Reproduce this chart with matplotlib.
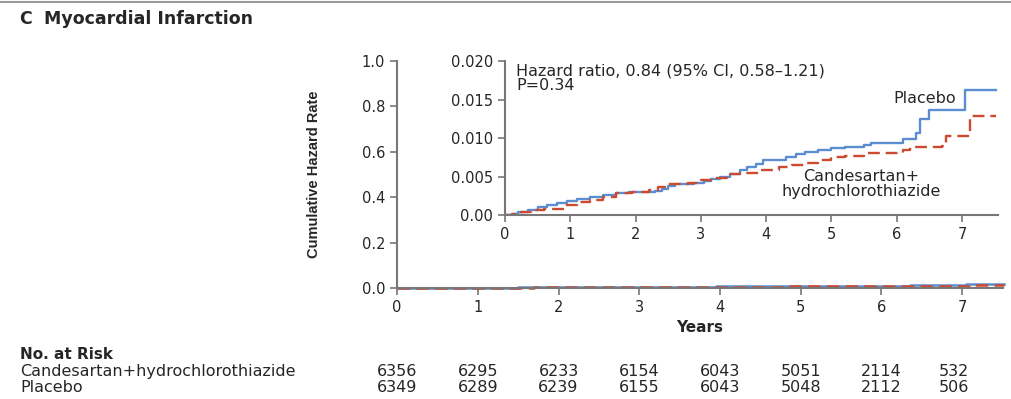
import matplotlib
matplotlib.use("Agg")
import matplotlib.pyplot as plt
import matplotlib.transforms as mtransforms

# cumulative hazard (years, rate)
placebo_t = [0, 0.1, 0.2, 0.35, 0.5, 0.65, 0.8, 0.95, 1.1, 1.3, 1.5, 1.7, 1.9, 2.3, 2.4,
             2.5, 2.6, 2.9, 3.05, 3.15, 3.3, 3.45, 3.6, 3.7, 3.85, 3.95, 4.3, 4.45, 4.6,
             4.8, 5.0, 5.2, 5.5, 5.6, 6.1, 6.3, 6.35, 6.5, 7.05, 7.52]
placebo_y = [0, 0.0002, 0.0004, 0.0007, 0.0010, 0.0013, 0.0016, 0.0018, 0.0021, 0.0024,
             0.0026, 0.0028, 0.0030, 0.0031, 0.0034, 0.0038, 0.0040, 0.0041, 0.0044,
             0.0047, 0.0050, 0.0053, 0.0058, 0.0062, 0.0066, 0.0072, 0.0075, 0.0079,
             0.0082, 0.0085, 0.0087, 0.0089, 0.0091, 0.0093, 0.0099, 0.0106, 0.0125,
             0.0137, 0.0162, 0.0162]
cand_t = [0, 0.1, 0.25, 0.4, 0.6, 0.9, 1.1, 1.3, 1.5, 1.7, 1.95, 2.2, 2.35, 2.5, 2.8, 3.0,
          3.2, 3.4, 3.6, 3.9, 4.2, 4.4, 4.6, 4.8, 5.0, 5.2, 5.5, 6.1, 6.2, 6.7, 6.75, 7.1,
          7.12, 7.52]
cand_y = [0, 0.0002, 0.0004, 0.0006, 0.0008, 0.0013, 0.0017, 0.0020, 0.0024, 0.0028,
          0.0030, 0.0033, 0.0036, 0.0040, 0.0042, 0.0045, 0.0048, 0.0053, 0.0055,
          0.0059, 0.0062, 0.0065, 0.0068, 0.0071, 0.0075, 0.0077, 0.0081, 0.0084,
          0.0088, 0.0090, 0.0103, 0.0103, 0.0128, 0.0128]

years = [0, 1, 2, 3, 4, 5, 6, 7]
risk_cand = [6356, 6295, 6233, 6154, 6043, 5051, 2114, 532]
risk_placebo = [6349, 6289, 6239, 6155, 6043, 5048, 2112, 506]

blue = "#5a8ed0"
red = "#cc4a30"
grey = "#777777"
txt = "#262626"

plt.rcParams['font.family'] = ['DejaVu Sans']

fig = plt.figure(figsize=(10.11, 3.99), dpi=100)

def style(ax):
    for s in ["top", "right"]:
        ax.spines[s].set_visible(False)
    for s in ["left", "bottom"]:
        ax.spines[s].set_color(grey)
        ax.spines[s].set_linewidth(1.5)
    ax.tick_params(colors=grey, labelcolor=txt, length=5, width=1.2, labelsize=10.5)

# main axes
ax = fig.add_axes([0.3927, 0.278, 0.599, 0.569])
ax.step(placebo_t, placebo_y, where="post", color=blue, lw=1.8, clip_on=False)
ax.step(cand_t, cand_y, where="post", color=red, lw=1.8, dashes=(5, 2.5), clip_on=False)
ax.set_xlim(0, 7.5)
ax.set_ylim(0, 1.0)
ax.set_xticks(years)
ax.set_yticks([0, 0.2, 0.4, 0.6, 0.8, 1.0])
ax.set_yticklabels(["0.0", "0.2", "0.4", "0.6", "0.8", "1.0"])
style(ax)
ax.set_xlabel("Years", fontsize=11, fontweight="bold", color=txt, labelpad=4)
ax.set_ylabel("Cumulative Hazard Rate", fontsize=10.5, color=txt, labelpad=29,
              fontweight="bold", family=["Liberation Sans", "DejaVu Sans"])

# inset
ins = fig.add_axes([0.4995, 0.461, 0.4876, 0.386])
ins.step(placebo_t, placebo_y, where="post", color=blue, lw=1.7)
ins.step(cand_t, cand_y, where="post", color=red, lw=1.7, dashes=(5, 2.5))
ins.set_xlim(0, 7.55)
ins.set_ylim(0, 0.020)
ins.set_xticks(years)
ins.set_yticks([0, 0.005, 0.010, 0.015, 0.020])
ins.set_yticklabels(["0.00", "0.005", "0.010", "0.015", "0.020"])
ins.patch.set_alpha(0)
style(ins)
ins.text(0.17, 0.0197, "Hazard ratio, 0.84 (95% CI, 0.58\u20131.21)\nP=0.34",
         fontsize=11.5, color=txt, va="top", ha="left", linespacing=1.0)
ins.text(6.9, 0.0152, "Placebo", fontsize=11.5, color=txt, ha="right", va="center")
ins.text(5.45, 0.0040, "Candesartan+\nhydrochlorothiazide", fontsize=11.5, color=txt,
         ha="center", va="center", linespacing=1.0)

# header
fig.add_artist(plt.Line2D([0, 1], [0.995, 0.995], color="#999999", lw=1.5))
fig.text(0.019, 0.953, "C", fontsize=12.5, fontweight="bold", color=txt, va="center")
fig.text(0.044, 0.953, "Myocardial Infarction", fontsize=12.5, fontweight="bold",
         color=txt, va="center")

# number at risk table
fig.text(0.02, 0.111, "No. at Risk", fontsize=11, fontweight="bold", color=txt,
         va="center")
fig.text(0.02, 0.0677, "Candesartan+hydrochlorothiazide", fontsize=11.5, color=txt,
         va="center")
fig.text(0.02, 0.0276, "Placebo", fontsize=11.5, color=txt, va="center")
tr = mtransforms.blended_transform_factory(ax.transData, fig.transFigure)
for yr, a, b in zip(years, risk_cand, risk_placebo):
    x = yr if yr < 7 else 6.9
    ax.text(x, 0.0677, str(a), transform=tr, fontsize=11.5, color=txt,
            ha="center", va="center", clip_on=False)
    ax.text(x, 0.0276, str(b), transform=tr, fontsize=11.5, color=txt,
            ha="center", va="center", clip_on=False)

fig.savefig("out.png", dpi=100)
